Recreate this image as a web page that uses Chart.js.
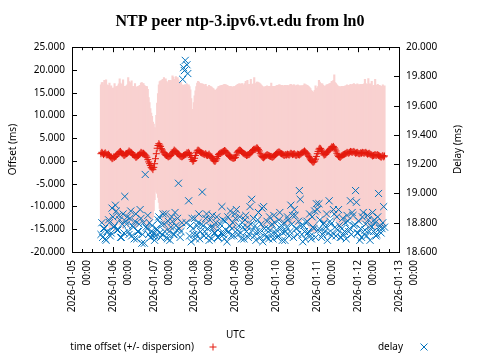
<!DOCTYPE html>
<html><head><meta charset="utf-8">
<script src="https://cdn.jsdelivr.net/npm/chart.js@4"></script>
<style>html,body{margin:0;padding:0;background:#fff;}#wrap{position:relative;width:480px;height:360px;}</style>
</head><body><div id="wrap"><canvas id="c" width="480" height="360"></canvas></div>
<script>
const titleText = 'NTP peer ntp-3.ipv6.vt.edu from ln0';
const xTitle = 'UTC';
const yTitle = 'Offset (ms)';
const y2Title = 'Delay (ms)';
const offsetLabel = 'time offset (+/- dispersion)';
const delayLabel = 'delay';
const dayLabels = ['2026-01-05','2026-01-06','2026-01-07','2026-01-08','2026-01-09','2026-01-10','2026-01-11','2026-01-12','2026-01-13'];
const timeLabel = '00:00';

// sample times, hours since 2026-01-05 00:00 UTC
const hours = [
17,17.5,18,18.5,19,19.5,20,20.5,21,21.5,22,22.5,23,23.5,24,24.5,25,25.5,26,26.5,
27,27.5,28,28.5,29,29.5,30,30.5,31,31.5,32,32.5,33,33.5,34,34.5,35,35.5,36,36.5,
37,37.5,38,38.5,39,39.5,40,40.5,41,41.5,42,42.5,43,43.5,44,44.5,45,45.5,46,46.5,
47,47.5,48,48.5,49,49.5,50,50.5,51,51.5,52,52.5,53,53.5,54,54.5,55,55.5,56,56.5,
57,57.5,58,58.5,59,59.5,60,60.5,61,61.5,62,62.5,63,63.5,64,64.5,65,65.5,66,66.5,
67,67.5,68,68.5,69,69.5,70,70.5,71,71.5,72,72.5,73,73.5,74,74.5,75,75.5,76,76.5,
77,77.5,78,78.5,79,79.5,80,80.5,81,81.5,82,82.5,83,83.5,84,84.5,85,85.5,86,86.5,
87,87.5,88,88.5,89,89.5,90,90.5,91,91.5,92,92.5,93,93.5,94,94.5,95,95.5,96,96.5,
97,97.5,98,98.5,99,99.5,100,100.5,101,101.5,102,102.5,103,103.5,104,104.5,105,105.5,106,106.5,
107,107.5,108,108.5,109,109.5,110,110.5,111,111.5,112,112.5,113,113.5,114,114.5,115,115.5,116,116.5,
117,117.5,118,118.5,119,119.5,120,120.5,121,121.5,122,122.5,123,123.5,124,124.5,125,125.5,126,126.5,
127,127.5,128,128.5,129,129.5,130,130.5,131,131.5,132,132.5,133,133.5,134,134.5,135,135.5,136,136.5,
137,137.5,138,138.5,139,139.5,140,140.5,141,141.5,142,142.5,143,143.5,144,144.5,145,145.5,146,146.5,
147,147.5,148,148.5,149,149.5,150,150.5,151,151.5,152,152.5,153,153.5,154,154.5,155,155.5,156,156.5,
157,157.5,158,158.5,159,159.5,160,160.5,161,161.5,162,162.5,163,163.5,164,164.5,165,165.5,166,166.5,
167,167.5,168,168.5,169,169.5,170,170.5,171,171.5,172,172.5,173,173.5,174,174.5,175,175.5,176,176.5,
177,177.5,178,178.5,179,179.5,180,180.5,181,181.5,182,182.5,183,183.5];

const offsetMs = [
1.6,1.9,1.7,1.4,1.6,1.8,1.5,1.3,1.4,1.5,1.2,0.9,0.8,0.5,0.6,0.9,0.8,1.0,1.1,1.4,
1.6,1.8,2.0,2.1,1.8,1.6,1.5,1.2,1.3,1.5,1.6,1.7,1.9,2.2,2.0,1.9,1.8,1.5,1.4,1.2,
1.1,0.8,0.9,1.1,1.2,1.4,1.6,1.9,1.8,1.6,1.7,1.5,1.3,1.1,0.8,0.3,-0.2,-0.6,-1.0,-1.4,
-1.6,-1.9,-1.4,-0.6,0.5,1.6,2.8,3.4,3.8,3.5,3.2,2.7,2.4,2.0,1.8,1.5,1.3,1.2,1.1,0.9,
1.0,1.1,1.2,1.5,1.8,2.1,2.4,2.2,2.1,1.8,1.6,1.5,1.3,1.1,1.0,0.9,1.0,1.2,1.3,1.4,
1.5,1.8,1.7,1.9,1.6,1.2,0.8,0.3,-0.1,0.1,0.6,1.2,1.8,2.2,2.4,2.3,2.1,1.9,1.8,1.7,
1.6,1.5,1.4,1.6,1.3,1.2,1.3,1.5,1.2,1.0,0.8,0.5,0.2,0.0,-0.1,0.2,0.5,1.0,1.4,1.6,
1.7,1.8,1.9,2.0,2.1,2.3,2.2,2.0,1.8,1.5,1.2,1.0,0.9,0.8,0.7,0.6,0.6,0.7,0.8,1.3,
1.8,2.1,2.3,2.4,2.3,2.1,1.9,1.7,1.6,1.5,1.4,1.2,1.3,1.4,1.4,1.6,1.8,2.0,2.3,2.5,
2.6,2.5,2.7,2.9,2.8,2.5,2.2,1.7,1.3,1.0,0.8,0.7,0.9,1.1,1.2,1.4,1.3,1.2,1.1,1.0,
1.0,0.8,0.9,1.0,1.2,1.4,1.6,1.8,1.9,2.0,1.9,1.7,1.6,1.5,1.4,1.2,1.3,1.4,1.3,1.5,
1.4,1.3,1.5,1.7,1.6,1.4,1.5,1.6,1.4,1.2,1.3,1.5,1.4,1.3,1.5,1.6,1.8,1.9,2.0,2.2,
2.0,1.8,1.6,1.3,1.0,0.7,0.4,0.1,-0.1,-0.3,-0.2,0.0,0.4,1.0,1.6,2.1,2.6,2.8,2.7,2.4,
2.0,1.6,1.3,1.4,1.5,1.8,2.0,2.2,2.4,2.6,2.8,3.1,3.0,3.2,2.9,2.6,2.2,1.7,1.3,1.0,
0.9,0.8,1.0,1.2,1.3,1.4,1.5,1.6,1.7,1.9,1.8,1.7,1.9,2.1,2.0,1.9,2.0,2.1,1.9,1.7,
1.8,1.9,1.7,1.6,1.6,1.8,1.7,1.9,1.8,1.7,1.8,1.9,1.7,1.5,1.6,1.7,1.5,1.4,1.3,1.1,
1.2,1.3,1.4,1.2,1.3,1.4,1.2,1.1,1.0,0.8,1.0,1.2,0.9,1.1];

const dispersionMs = [
15.2,15.4,15.6,15.3,16.2,15.2,16.4,15.5,15.3,15.1,16.0,15.3,15.8,15.4,15.5,15.2,16.3,15.3,15.3,15.1,
15.0,15.2,16.1,15.1,15.1,15.3,16.4,15.2,15.2,15.0,15.0,15.1,16.5,15.3,15.3,15.1,15.9,15.0,15.1,15.2,
16.0,15.2,15.4,15.3,15.3,15.2,15.1,15.3,15.5,15.4,15.4,15.2,15.2,15.4,15.6,15.5,14.2,13.5,12.6,12.0,
11.5,10.5,9.6,8.0,6.8,8.5,10.0,11.5,13.0,14.0,14.5,15.0,15.5,16.0,16.6,16.2,16.8,16.4,16.2,16.0,
16.8,16.2,16.6,16.0,17.0,16.4,15.6,15.8,16.5,16.2,16.8,16.4,16.0,16.2,16.3,15.9,15.6,15.5,15.5,15.4,
15.3,15.2,15.0,14.9,14.8,14.5,13.0,11.0,11.5,12.8,13.8,14.3,14.6,15.0,15.2,15.1,15.0,15.2,15.2,15.3,
15.3,15.2,15.4,15.3,15.2,15.1,15.0,15.2,15.3,15.4,15.5,15.6,15.8,15.7,15.6,15.4,15.3,15.1,15.0,14.9,
14.9,14.8,14.8,14.7,14.7,14.6,14.6,14.8,14.9,15.1,15.3,15.4,15.5,15.6,15.6,15.7,15.8,15.7,15.7,15.4,
15.0,14.8,14.7,14.6,14.6,14.9,15.2,15.1,15.0,15.6,16.2,15.4,16.5,15.3,15.5,15.0,16.2,14.8,14.6,14.5,
15.8,14.5,14.4,14.5,14.6,14.8,15.0,15.3,15.5,15.6,15.6,15.5,15.4,15.3,15.3,15.2,15.2,15.3,15.4,15.5,
16.2,15.5,15.6,15.4,15.3,15.1,15.0,14.9,14.8,14.8,14.9,15.0,15.1,15.2,15.2,15.3,15.4,15.3,15.3,15.2,
15.2,15.3,15.3,15.2,15.1,15.2,15.3,15.2,15.2,15.3,15.4,15.3,15.3,15.2,15.1,15.0,14.8,14.7,14.7,14.8,
14.8,15.0,15.1,15.3,15.4,15.5,15.6,15.5,15.5,15.4,15.4,15.6,16.2,15.0,14.5,14.3,15.2,14.6,14.4,14.6,
15.0,15.1,15.2,15.1,15.1,15.0,14.8,14.7,14.6,14.5,14.4,14.5,14.5,14.6,16.1,14.7,14.9,15.1,15.3,15.4,
15.5,15.4,15.4,15.3,15.2,15.1,15.0,15.0,14.9,14.9,14.9,14.8,14.8,14.8,14.8,14.9,14.9,15.0,15.0,15.0,
15.0,15.1,15.1,15.2,15.2,15.1,15.1,15.0,15.0,15.3,16.2,15.2,15.1,15.4,16.6,15.3,15.3,15.6,16.3,15.4,
15.5,15.3,16.6,15.4,15.4,15.5,15.5,15.6,15.6,15.5,15.5,15.6,15.6,15.5];

const delayMs = [
18.72,18.80,18.70,18.76,18.76,18.69,18.68,18.74,18.74,18.82,18.80,18.71,18.73,18.90,18.84,18.77,18.78,18.92,18.88,18.75,
18.75,18.85,18.82,18.70,18.70,18.79,18.86,18.73,18.98,18.81,18.79,18.84,18.74,18.72,18.83,18.88,18.71,18.78,18.77,18.69,
18.81,18.86,18.69,18.74,18.74,18.79,18.89,18.83,18.66,18.72,18.80,18.66,19.13,18.77,18.76,18.85,18.72,18.80,18.70,18.74,
18.78,18.71,18.73,18.68,18.71,18.76,18.75,18.82,18.84,18.73,18.70,18.79,18.72,18.86,18.79,18.74,18.86,18.70,18.69,18.81,
18.74,18.68,18.77,18.84,18.81,18.72,18.72,18.87,18.78,18.75,18.83,19.07,18.76,18.70,18.74,18.80,19.78,19.86,19.84,19.91,
18.80,19.88,19.82,18.95,18.71,18.78,18.67,18.83,18.76,18.72,18.83,18.69,18.72,18.78,18.80,18.86,18.69,18.74,18.79,19.01,
18.78,18.71,18.74,18.83,18.86,18.76,18.71,18.68,18.82,18.77,18.69,18.85,18.77,18.73,18.73,18.80,18.84,18.70,18.70,18.76,
18.79,18.73,18.91,18.82,18.72,18.69,18.81,18.75,18.67,18.84,18.74,18.78,18.88,18.71,18.76,18.80,18.71,18.86,18.83,18.89,
18.75,18.72,18.78,18.84,18.73,18.69,18.80,18.77,18.69,18.82,18.85,18.74,18.77,18.70,18.72,18.91,18.79,18.96,18.75,18.83,
18.71,18.78,18.68,18.74,18.82,18.87,18.74,18.70,18.79,18.90,18.67,18.91,18.76,18.72,18.70,18.81,18.76,18.69,18.84,18.75,
18.72,18.79,18.69,18.85,18.80,18.73,18.75,18.70,18.71,18.82,18.87,18.76,18.78,18.68,18.73,18.80,18.68,18.74,18.77,18.84,
18.82,18.71,18.74,18.92,18.79,18.85,18.70,18.89,18.85,18.76,18.76,18.72,18.81,19.02,18.96,18.78,18.72,18.67,18.78,18.74,
18.69,18.80,18.81,18.73,18.74,18.86,18.71,18.69,18.84,18.77,18.76,18.88,18.70,18.93,18.89,18.75,18.93,18.82,18.75,18.70,
18.72,18.79,18.80,18.74,18.77,18.86,18.68,18.73,18.95,18.81,18.79,18.71,18.73,18.89,18.86,18.77,18.71,18.84,18.75,18.89,
18.78,18.70,18.70,18.76,18.83,18.72,18.74,18.80,18.69,18.85,18.81,18.74,18.76,18.95,18.72,18.87,18.85,18.78,18.79,19.02,
18.94,18.73,18.73,18.81,18.68,18.76,18.70,18.84,18.87,18.72,18.75,18.79,18.71,18.85,18.82,18.74,18.68,18.78,18.77,18.87,
18.74,18.82,18.80,18.71,18.72,18.84,19.00,18.76,18.78,18.73,18.76,18.80,18.91,18.77];

const FONT = "'Noto Sans', sans-serif";
const RED = '#e41a0e';
const BLUE = '#0072bd';
const PINK = 'rgb(249,209,208)';

Chart.defaults.font.family = FONT;
Chart.defaults.font.size = 10;
Chart.defaults.color = '#000';

const framePlugin = {
  id: 'frame',
  afterDraw(chart) {
    const {ctx, chartArea: a, scales} = chart;
    ctx.save();
    ctx.strokeStyle = '#000';
    ctx.lineWidth = 1;
    ctx.beginPath();
    const xs = scales.x;
    for (let h = xs.min; h <= xs.max; h += 6) {
      const px = Math.round(xs.getPixelForValue(h)) + 0.5;
      const len = (h % 24 === 0) ? 5 : 3;
      ctx.moveTo(px, a.bottom); ctx.lineTo(px, a.bottom - len);
      ctx.moveTo(px, a.top); ctx.lineTo(px, a.top + len);
    }
    scales.y.ticks.forEach(t => {
      const py = Math.round(scales.y.getPixelForValue(t.value)) + 0.5;
      ctx.moveTo(a.left, py); ctx.lineTo(a.left + 5, py);
    });
    scales.y2.ticks.forEach(t => {
      const py = Math.round(scales.y2.getPixelForValue(t.value)) + 0.5;
      ctx.moveTo(a.right, py); ctx.lineTo(a.right - 5, py);
    });
    ctx.stroke();
    ctx.strokeRect(Math.round(a.left) + 0.5, Math.round(a.top) + 0.5,
                   Math.round(a.right - a.left), Math.round(a.bottom - a.top));

    // right axis title (reads bottom-to-top, like gnuplot)
    ctx.fillStyle = '#000';
    ctx.font = "10px " + FONT;
    ctx.save();
    ctx.translate(458, (a.top + a.bottom) / 2);
    ctx.rotate(-Math.PI / 2);
    ctx.textAlign = 'center';
    ctx.textBaseline = 'middle';
    ctx.fillText(y2Title, 0, 0);
    ctx.restore();

    // legend (gnuplot style: text then sample)
    const ly = 347;
    ctx.textAlign = 'right';
    ctx.textBaseline = 'middle';
    ctx.fillText(offsetLabel, 194, ly);
    ctx.fillText(delayLabel, 403, ly);
    ctx.lineWidth = 1;
    ctx.strokeStyle = RED;
    ctx.beginPath();
    ctx.moveTo(209.5, ly); ctx.lineTo(216.5, ly);
    ctx.moveTo(213, ly - 3.5); ctx.lineTo(213, ly + 3.5);
    ctx.stroke();
    ctx.strokeStyle = BLUE;
    ctx.beginPath();
    ctx.moveTo(420.5, ly - 3.5); ctx.lineTo(427.5, ly + 3.5);
    ctx.moveTo(420.5, ly + 3.5); ctx.lineTo(427.5, ly - 3.5);
    ctx.stroke();
    ctx.restore();
  }
};

new Chart(document.getElementById('c'), {
  type: 'scatter',
  data: {
    datasets: [
      {
        type: 'bar',
        label: 'dispersion',
        data: hours.map((h, i) => ({x: h, y: [offsetMs[i] - dispersionMs[i], offsetMs[i] + dispersionMs[i]]})),
        backgroundColor: PINK,
        borderWidth: 0,
        barPercentage: 2.5,
        categoryPercentage: 1,
        grouped: false,
        xAxisID: 'x',
        yAxisID: 'y',
        order: 3
      },
      {
        label: offsetLabel,
        data: hours.map((h, i) => ({x: h, y: offsetMs[i]})),
        pointStyle: 'cross',
        pointRadius: 3.5,
        borderColor: RED,
        backgroundColor: RED,
        borderWidth: 1,
        xAxisID: 'x',
        yAxisID: 'y',
        order: 2
      },
      {
        label: delayLabel,
        data: hours.map((h, i) => ({x: h, y: delayMs[i]})),
        pointStyle: 'crossRot',
        pointRadius: 5,
        borderColor: BLUE,
        backgroundColor: BLUE,
        borderWidth: 1,
        xAxisID: 'x',
        yAxisID: 'y2',
        order: 1
      }
    ]
  },
  options: {
    responsive: false,
    animation: false,
    events: [],
    layout: {padding: 0},
    plugins: {
      legend: {display: false},
      tooltip: {enabled: false},
      title: {
        display: true,
        text: titleText,
        color: '#000',
        font: {family: "'Liberation Serif', serif", size: 16, weight: 'bold', lineHeight: 1.2},
        padding: {top: 12, bottom: 16}
      }
    },
    scales: {
      x: {
        type: 'linear',
        position: 'bottom',
        min: 0,
        max: 192,
        offset: false,
        grid: {display: false, drawTicks: false},
        border: {display: false},
        ticks: {
          stepSize: 24,
          autoSkip: false,
          minRotation: 90,
          maxRotation: 90,
          padding: 8,
          color: '#000',
          font: {size: 10, lineHeight: 1.5},
          callback: (v) => [dayLabels[Math.round(v / 24)], timeLabel]
        },
        title: {display: true, text: xTitle, color: '#000', font: {size: 10}, padding: {top: 0, bottom: 19}},
        afterFit: (s) => { s.height = 108; }
      },
      y: {
        type: 'linear',
        position: 'left',
        min: -20,
        max: 25,
        grid: {display: false, drawTicks: false},
        border: {display: false},
        ticks: {stepSize: 5, padding: 7, color: '#000', callback: (v) => Number(v).toFixed(3)},
        title: {display: true, text: yTitle, color: '#000', font: {size: 10}, padding: {top: 7, bottom: 0}},
        afterFit: (s) => { s.width = 72; }
      },
      y2: {
        type: 'linear',
        position: 'right',
        min: 18.6,
        max: 20.0,
        grid: {display: false, drawTicks: false},
        border: {display: false},
        ticks: {stepSize: 0.2, padding: 7, color: '#000', callback: (v) => Number(v).toFixed(3)},
        afterFit: (s) => { s.width = 81; }
      }
    }
  },
  plugins: [framePlugin]
});
</script>
</body></html>
